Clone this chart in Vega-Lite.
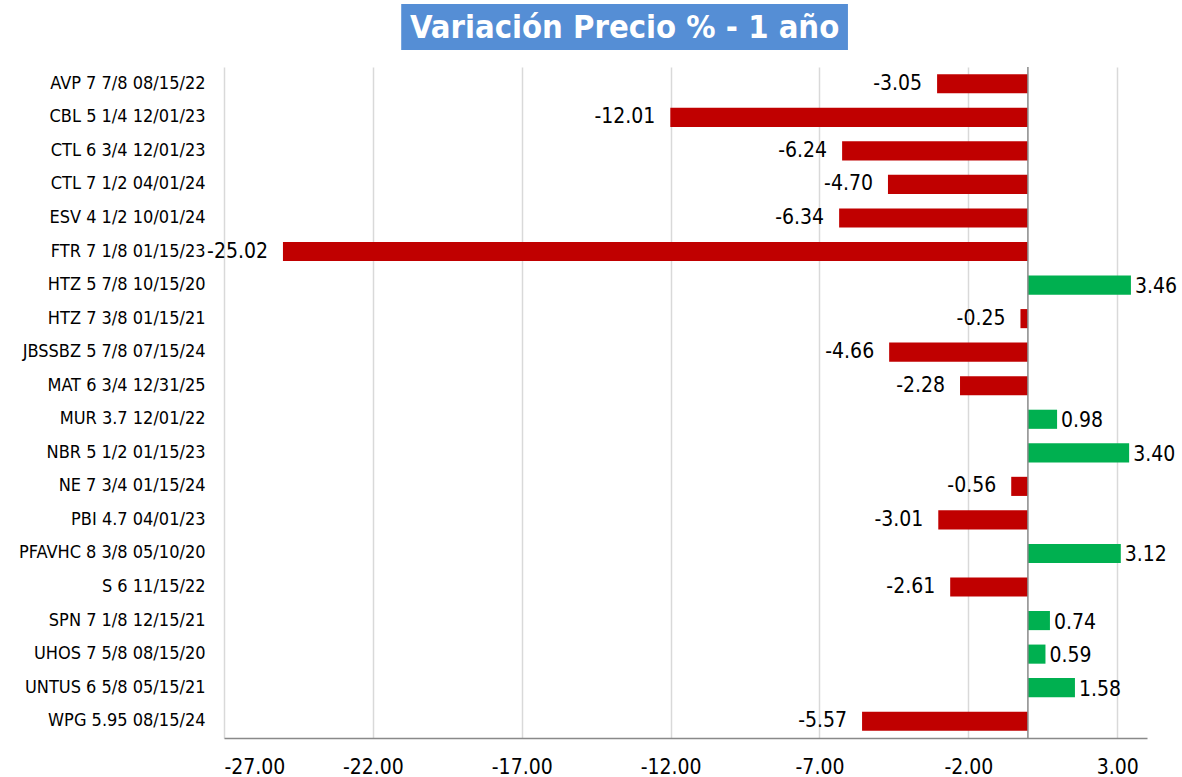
{
  "$schema": "https://vega.github.io/schema/vega-lite/v6.json",
  "padding": {"left": 18, "top": 4, "right": 5, "bottom": 0},
  "background": "white",
  "config": {
    "view": {"stroke": null},
    "font": "DejaVu Sans Condensed",
    "locale": {"number": {"decimal": ".", "thousands": ",", "grouping": [3], "currency": ["$", ""], "minus": "-"}}
  },
  "spacing": 16,
  "vconcat": [
    {
      "width": 923,
      "height": 46,
      "data": {"values": [{"title": "Variación Precio % - 1 año"}]},
      "layer": [
        {
          "mark": {"type": "rect", "color": "#558ED5"},
          "encoding": {
            "x": {"datum": 0.192, "type": "quantitative", "scale": {"domain": [0, 1]}, "axis": null},
            "x2": {"datum": 0.676},
            "y": {"datum": 0, "type": "quantitative", "scale": {"domain": [0, 1]}, "axis": null},
            "y2": {"datum": 1}
          }
        },
        {
          "mark": {"type": "text", "color": "white", "fontWeight": "bold", "fontSize": 32.5, "font": "DejaVu Sans Condensed", "align": "center", "baseline": "middle", "dy": 1},
          "encoding": {
            "x": {"datum": 0.434, "type": "quantitative"},
            "y": {"datum": 0.5, "type": "quantitative"},
            "text": {"field": "title"}
          }
        }
      ]
    },
    {
      "width": 923,
      "height": 671,
      "data": {
        "values": [
          {"bond": "AVP 7 7/8 08/15/22", "value": -3.05},
          {"bond": "CBL 5 1/4 12/01/23", "value": -12.01},
          {"bond": "CTL 6 3/4 12/01/23", "value": -6.24},
          {"bond": "CTL 7 1/2 04/01/24", "value": -4.70},
          {"bond": "ESV 4 1/2 10/01/24", "value": -6.34},
          {"bond": "FTR 7 1/8 01/15/23", "value": -25.02},
          {"bond": "HTZ 5 7/8 10/15/20", "value": 3.46},
          {"bond": "HTZ 7 3/8 01/15/21", "value": -0.25},
          {"bond": "JBSSBZ 5 7/8 07/15/24", "value": -4.66},
          {"bond": "MAT 6 3/4 12/31/25", "value": -2.28},
          {"bond": "MUR 3.7 12/01/22", "value": 0.98},
          {"bond": "NBR 5 1/2 01/15/23", "value": 3.40},
          {"bond": "NE 7 3/4 01/15/24", "value": -0.56},
          {"bond": "PBI 4.7 04/01/23", "value": -3.01},
          {"bond": "PFAVHC 8 3/8 05/10/20", "value": 3.12},
          {"bond": "S 6 11/15/22", "value": -2.61},
          {"bond": "SPN 7 1/8 12/15/21", "value": 0.74},
          {"bond": "UHOS 7 5/8 08/15/20", "value": 0.59},
          {"bond": "UNTUS 6 5/8 05/15/21", "value": 1.58},
          {"bond": "WPG 5.95 08/15/24", "value": -5.57}
        ]
      },
      "layer": [
        {
          "mark": {"type": "bar"},
          "encoding": {
            "y": {
              "field": "bond", "type": "nominal", "sort": null,
              "scale": {"paddingInner": 0.43, "paddingOuter": 0.215},
              "axis": {"title": null, "domain": false, "ticks": false, "labelPadding": 19, "labelFontSize": 18, "labelColor": "#000000", "labelFont": "DejaVu Sans Condensed", "labelLimit": 400}
            },
            "x": {
              "field": "value", "type": "quantitative",
              "scale": {"domain": [-27, 4], "nice": false, "zero": false},
              "axis": {"title": null, "values": [-27, -22, -17, -12, -7, -2, 3], "format": ".2f", "grid": true, "gridColor": "#D9D9D9", "gridWidth": 1.5, "domainColor": "#898989", "domainWidth": 1.5, "ticks": false, "labelPadding": 18, "labelFontSize": 21, "labelColor": "#000000", "labelFont": "DejaVu Sans Condensed"}
            },
            "color": {"condition": {"test": "datum.value < 0", "value": "#C00000"}, "value": "#00B050"}
          }
        },
        {
          "data": {"values": [{}]},
          "mark": {"type": "rule", "color": "#898989", "strokeWidth": 1.5},
          "encoding": {"x": {"datum": 0, "type": "quantitative"}}
        },
        {
          "transform": [{"filter": "datum.value < 0"}],
          "mark": {"type": "text", "align": "right", "baseline": "middle", "dx": -15, "fontSize": 21, "color": "#000000", "font": "DejaVu Sans Condensed"},
          "encoding": {
            "y": {"field": "bond", "type": "nominal", "sort": null},
            "x": {"field": "value", "type": "quantitative"},
            "text": {"field": "value", "type": "quantitative", "format": ".2f"}
          }
        },
        {
          "transform": [{"filter": "datum.value >= 0"}],
          "mark": {"type": "text", "align": "left", "baseline": "middle", "dx": 4, "dy": 2, "fontSize": 21, "color": "#000000", "font": "DejaVu Sans Condensed"},
          "encoding": {
            "y": {"field": "bond", "type": "nominal", "sort": null},
            "x": {"field": "value", "type": "quantitative"},
            "text": {"field": "value", "type": "quantitative", "format": ".2f"}
          }
        }
      ]
    }
  ]
}
